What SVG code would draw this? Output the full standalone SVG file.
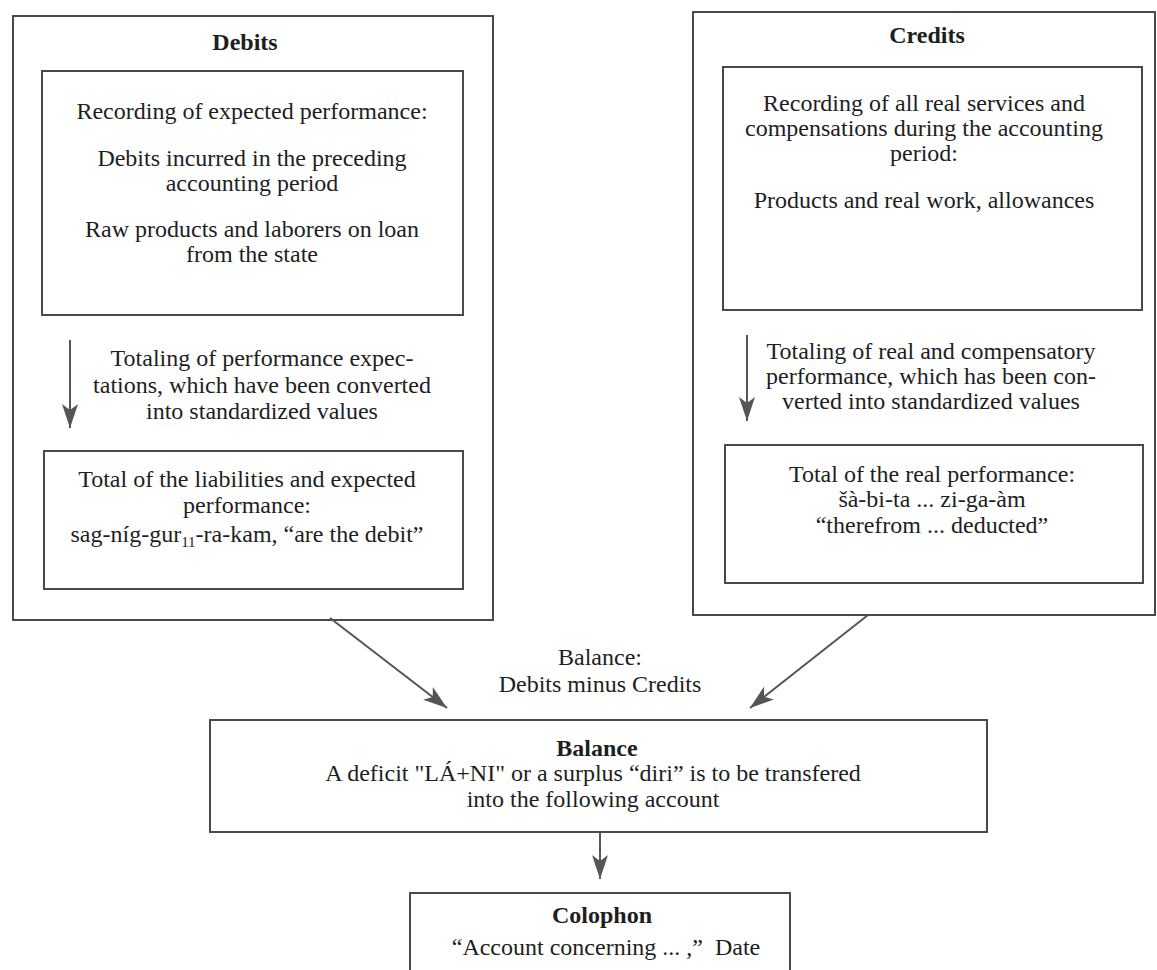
<svg xmlns="http://www.w3.org/2000/svg" width="1157" height="970" viewBox="0 0 1157 970">
<style>
  .box { fill: none; stroke: #4a4a4a; stroke-width: 2; }
  .t { font-family: "Liberation Serif", "Times New Roman", serif; font-size: 24px; fill: #1e1e1e; text-anchor: middle; }
  .b { font-weight: bold; }
  .conn { stroke: #555; stroke-width: 2; fill: none; marker-end: url(#ah); }
</style>
<defs>
  <marker id="ah" markerUnits="userSpaceOnUse" markerWidth="26" markerHeight="20" viewBox="0 0 26 20" refX="24" refY="10" orient="auto">
    <path d="M0,2 L24,10 L0,18 L6,10 Z" fill="#555"/>
  </marker>
</defs>
<rect width="1157" height="970" fill="#fff"/>

<g id="debits">
  <rect class="box" x="13" y="16" width="480" height="604"/>
  <text class="t b" x="245" y="50">Debits</text>
</g>
<g id="debits-recording">
  <rect class="box" x="42" y="71" width="421" height="244"/>
  <text class="t" x="252" y="119">Recording of expected performance:</text>
  <text class="t" x="252" y="166">Debits incurred in the preceding</text>
  <text class="t" x="252" y="191">accounting period</text>
  <text class="t" x="252" y="237">Raw products and laborers on loan</text>
  <text class="t" x="252" y="262">from the state</text>
</g>
<g id="debits-totaling">
  <text class="t" x="262" y="366">Totaling of performance expec-</text>
  <text class="t" x="262" y="393">tations, which have been converted</text>
  <text class="t" x="262" y="419">into standardized values</text>
</g>
<g id="debits-total">
  <rect class="box" x="44" y="451" width="419" height="138"/>
  <text class="t" x="247" y="487">Total of the liabilities and expected</text>
  <text class="t" x="247" y="513">performance:</text>
  <text class="t" x="247" y="542">sag-níg-gur<tspan font-size="15" dy="5">11</tspan><tspan dy="-5">-ra-kam, “are the debit”</tspan></text>
</g>

<g id="credits">
  <rect class="box" x="693" y="12" width="462" height="603"/>
  <text class="t b" x="927" y="43">Credits</text>
</g>
<g id="credits-recording">
  <rect class="box" x="723" y="67" width="419" height="243"/>
  <text class="t" x="924" y="111">Recording of all real services and</text>
  <text class="t" x="924" y="136">compensations during the accounting</text>
  <text class="t" x="924" y="161">period:</text>
  <text class="t" x="924" y="208">Products and real work, allowances</text>
</g>
<g id="credits-totaling">
  <text class="t" x="931" y="359">Totaling of real and compensatory</text>
  <text class="t" x="931" y="384">performance, which has been con-</text>
  <text class="t" x="931" y="409">verted into standardized values</text>
</g>
<g id="credits-total">
  <rect class="box" x="725" y="445" width="418" height="138"/>
  <text class="t" x="932" y="482">Total of the real performance:</text>
  <text class="t" x="932" y="507">šà-bi-ta ... zi-ga-àm</text>
  <text class="t" x="932" y="533">“therefrom ... deducted”</text>
</g>

<g id="balance-label">
  <text class="t" x="600" y="665">Balance:</text>
  <text class="t" x="600" y="692">Debits minus Credits</text>
</g>

<g id="balance">
  <rect class="box" x="210" y="720" width="777" height="112"/>
  <text class="t b" x="597" y="756">Balance</text>
  <text class="t" x="593" y="781">A deficit "LÁ+NI" or a surplus “diri” is to be transfered</text>
  <text class="t" x="593" y="807">into the following account</text>
</g>

<g id="colophon">
  <rect class="box" x="410" y="893" width="380" height="90"/>
  <text class="t b" x="602" y="923">Colophon</text>
  <text class="t" x="606" y="955" xml:space="preserve">“Account concerning ... ,”  Date</text>
</g>

<g id="connectors">
  <line class="conn" x1="70" y1="340" x2="70" y2="428"/>
  <line class="conn" x1="747" y1="335" x2="747" y2="421"/>
  <line class="conn" x1="330" y1="618" x2="447" y2="708"/>
  <line class="conn" x1="868" y1="615" x2="750" y2="708"/>
  <line class="conn" x1="600" y1="832" x2="600" y2="879"/>
</g>
</svg>
